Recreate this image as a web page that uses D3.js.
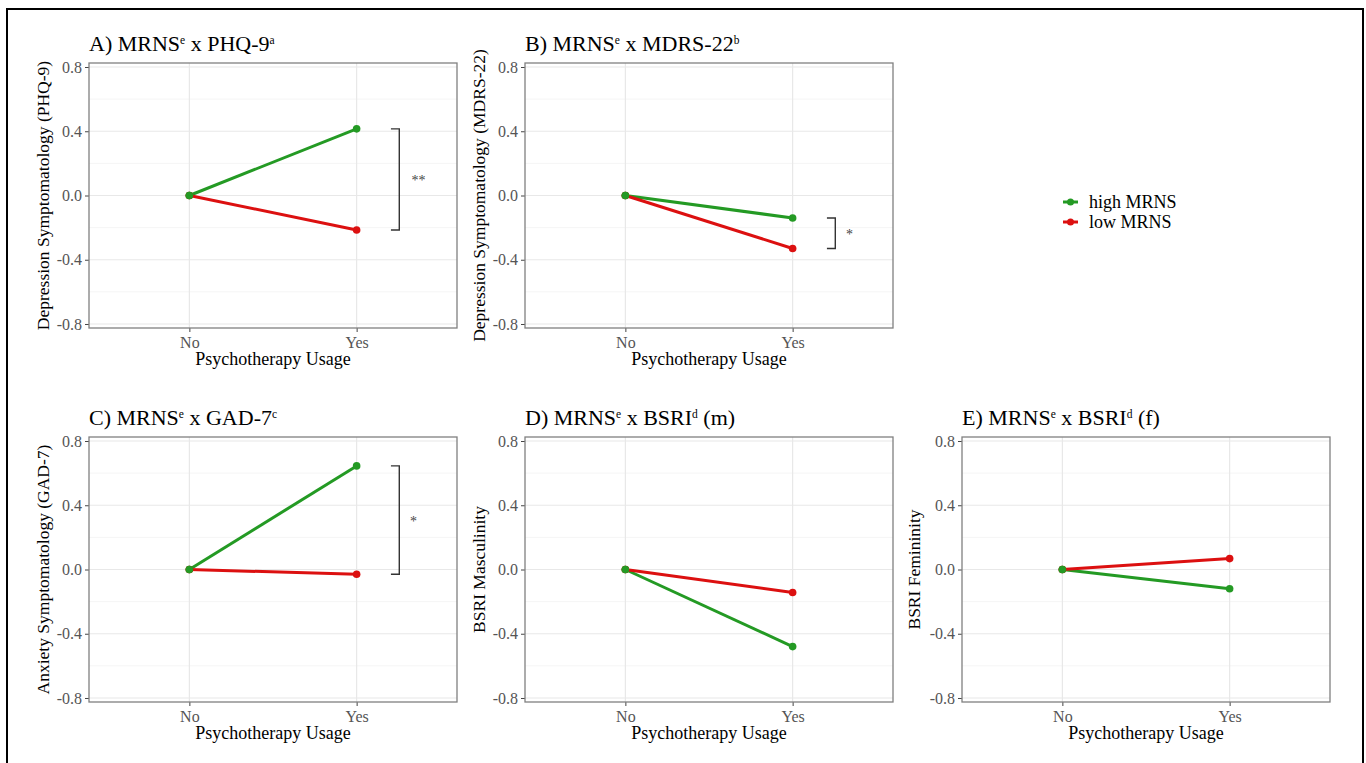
<!DOCTYPE html>
<html>
<head>
<meta charset="utf-8">
<script src="https://cdn.jsdelivr.net/npm/d3@7"></script>
<style>
  body { margin: 0; background: #fff; }
  svg { display: block; font-family: "Liberation Serif", "DejaVu Serif", serif; }
</style>
</head>
<body>
<div id="chart"></div>
<script>
// data
let groups = ["No", "Yes"];
let seriesNames = ["high MRNS", "low MRNS"];
let seriesColors = ["#249a24", "#dc1010"];
let yTicks = [-0.8, -0.4, 0.0, 0.4, 0.8];
let yMinor = [-0.6, -0.2, 0.2, 0.6];

// title pieces: [text, superscript]
let titles = [
  [["A) MRNS", "e"], [" x PHQ-9", "a"]],
  [["B) MRNS", "e"], [" x MDRS-22", "b"]],
  [["C) MRNS", "e"], [" x GAD-7", "c"]],
  [["D) MRNS", "e"], [" x BSRI", "d"], [" (m)", ""]],
  [["E) MRNS", "e"], [" x BSRI", "d"], [" (f)", ""]]
];
let yTitles = [
  "Depression Symptomatology (PHQ-9)",
  "Depression Symptomatology (MDRS-22)",
  "Anxiety Symptomatology (GAD-7)",
  "BSRI Masculinity",
  "BSRI Femininity"
];
let highValues = [[0, 0.415], [0, -0.14], [0, 0.645], [0, -0.48], [0, -0.12]];
let lowValues = [[0, -0.215], [0, -0.33], [0, -0.03], [0, -0.143], [0, 0.068]];
let stars = ["**", "*", "*", "", ""];

let width = 1366, height = 763;
let pw = 368, ph = 265;
let slots = [[89, 63], [525, 63], [89, 437], [525, 437], [962, 437]];

let svg = d3.select("#chart")
  .append("svg")
  .attr("width", width)
  .attr("height", height);

svg.append("rect")
  .attr("x", 7).attr("y", 9)
  .attr("width", 1356).attr("height", 780)
  .attr("fill", "none")
  .attr("stroke", "#000")
  .attr("stroke-width", 2);

// ggplot discrete expansion: 0.6 on each side of positions 1..2
let xLin = d3.scaleLinear().domain([0.4, 2.6]).range([0, pw]);
let x = d3.scalePoint().domain(groups).range([xLin(1), xLin(2)]);
let y = d3.scaleLinear().domain([-0.825, 0.825]).range([ph, 0]);

function drawPanel(i) {
  let g = svg.append("g")
    .attr("transform", "translate(" + slots[i][0] + "," + slots[i][1] + ")");

  // grid
  g.selectAll(".minor").data(yMinor).enter().append("line")
    .attr("x1", 0).attr("x2", pw)
    .attr("y1", d => y(d)).attr("y2", d => y(d))
    .attr("stroke", "#f3f3f3").attr("stroke-width", 0.8);
  g.selectAll(".major").data(yTicks).enter().append("line")
    .attr("x1", 0).attr("x2", pw)
    .attr("y1", d => y(d)).attr("y2", d => y(d))
    .attr("stroke", "#e8e8e8").attr("stroke-width", 1.2);
  g.selectAll(".vmajor").data(groups).enter().append("line")
    .attr("x1", d => x(d)).attr("x2", d => x(d))
    .attr("y1", 0).attr("y2", ph)
    .attr("stroke", "#e8e8e8").attr("stroke-width", 1.2);

  // axes
  let yAxis = g.append("g")
    .call(d3.axisLeft(y).tickValues(yTicks).tickFormat(d3.format(".1f")).tickSize(4).tickPadding(3));
  let xAxis = g.append("g")
    .attr("transform", "translate(0," + ph + ")")
    .call(d3.axisBottom(x).tickSize(4).tickPadding(3));
  [yAxis, xAxis].forEach(a => {
    a.attr("font-family", null).attr("font-size", null);
    a.select(".domain").remove();
    a.selectAll(".tick line").attr("stroke", "#444").attr("stroke-width", 1);
    a.selectAll(".tick text")
      .attr("fill", "#555")
      .style("font-size", "16px");
  });
  yAxis.selectAll(".tick text").text(d => d.toFixed(1));
  xAxis.selectAll(".tick text").attr("dy", "0.8em");

  // border
  g.append("rect")
    .attr("width", pw).attr("height", ph)
    .attr("fill", "none")
    .attr("stroke", "#808080")
    .attr("stroke-width", 1.3);

  // lines + points
  let series = [highValues[i], lowValues[i]];
  let line = d3.line()
    .x((d, j) => x(groups[j]))
    .y(d => y(d));
  series.forEach((s, k) => {
    g.append("path")
      .attr("d", line(s))
      .attr("fill", "none")
      .attr("stroke", seriesColors[k])
      .attr("stroke-width", 3);
  });
  series.forEach((s, k) => {
    g.selectAll(".pt" + k).data(s).enter().append("circle")
      .attr("class", "pt" + k)
      .attr("cx", (d, j) => x(groups[j]))
      .attr("cy", d => y(d))
      .attr("r", 3.8)
      .attr("fill", seriesColors[k]);
  });
  // green point at origin drawn on top
  g.append("circle")
    .attr("cx", x(groups[0])).attr("cy", y(series[0][0]))
    .attr("r", 3.8).attr("fill", seriesColors[0]);

  // significance bracket
  if (stars[i]) {
    let top = y(Math.max(series[0][1], series[1][1]));
    let bot = y(Math.min(series[0][1], series[1][1]));
    let bx0 = xLin(2.205), bx1 = xLin(2.255);
    g.append("path")
      .attr("d", "M" + bx0 + "," + top + "H" + bx1 + "V" + bot + "H" + bx0)
      .attr("fill", "none")
      .attr("stroke", "#333")
      .attr("stroke-width", 1.4);
    g.append("text")
      .attr("x", xLin(stars[i].length > 1 ? 2.37 : 2.34))
      .attr("y", (top + bot) / 2 + 6)
      .attr("text-anchor", "middle")
      .attr("fill", "#444")
      .style("font-size", "14px")
      .text(stars[i]);
  }

  // title
  let t = g.append("text")
    .attr("x", 0).attr("y", -12)
    .attr("fill", "#000")
    .style("font-size", "22px");
  let lift = 0;
  titles[i].forEach(p => {
    t.append("tspan").attr("dy", lift).text(p[0]);
    lift = 0;
    if (p[1]) {
      t.append("tspan")
        .attr("dy", -7)
        .style("font-size", "11.5px")
        .text(p[1]);
      lift = 7;
    }
  });

  // axis titles
  g.append("text")
    .attr("transform", "translate(" + (i == 4 ? -42 : -40) + "," + (ph / 2) + ") rotate(-90)")
    .attr("text-anchor", "middle")
    .attr("fill", "#000")
    .style("font-size", "17.5px")
    .text(yTitles[i]);
  g.append("text")
    .attr("x", (x(groups[0]) + x(groups[1])) / 2)
    .attr("y", ph + 37)
    .attr("text-anchor", "middle")
    .attr("fill", "#000")
    .style("font-size", "18px")
    .text("Psychotherapy Usage");
}

for (let i = 0; i < titles.length; i++) drawPanel(i);

// legend
let legend = svg.append("g").attr("transform", "translate(1063,202)");
let keys = legend.selectAll(".key").data(seriesNames).enter().append("g")
  .attr("transform", (d, i) => "translate(0," + (i * 20) + ")");
keys.append("line")
  .attr("x1", 0).attr("x2", 15)
  .attr("stroke", (d, i) => seriesColors[i])
  .attr("stroke-width", 3);
keys.append("circle")
  .attr("cx", 7.5).attr("r", 3.5)
  .attr("fill", (d, i) => seriesColors[i]);
keys.append("text")
  .attr("x", 26).attr("y", 6)
  .style("font-size", "18px")
  .text(d => d);
</script>
</body>
</html>
